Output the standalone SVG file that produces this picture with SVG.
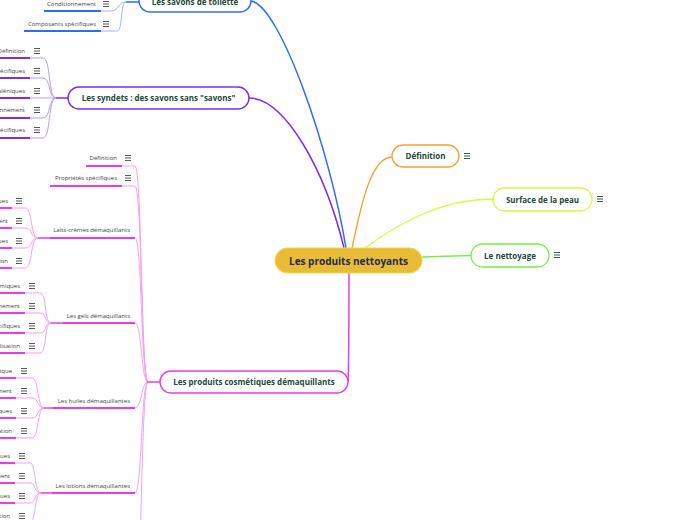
<svg xmlns="http://www.w3.org/2000/svg" xmlns:xlink="http://www.w3.org/1999/xlink" width="696" height="520" viewBox="0 0 696 520">
<style>
.nt{font-family:"Open Sans","Noto Sans",sans-serif;font-weight:700;font-size:8px;fill:#1d4a3a;text-anchor:middle}
.ct{font-family:"Open Sans","Noto Sans",sans-serif;font-weight:700;font-size:10px;fill:#1f2a56;text-anchor:middle}
.lf{font-family:"Open Sans","Noto Sans",sans-serif;font-size:6px;fill:#444;text-anchor:end}
.c{fill:none}
.bl{stroke:#2f6cf6;stroke-width:1.5}
.blL{stroke:#97b5fa;stroke-width:1}
.pu{stroke:#7a2ef0;stroke-width:1.5}
.puL{stroke:#b89bf6;stroke-width:1}
.mg{stroke:#ea3aea;stroke-width:1.5}
.mgL{stroke:#f4a0f2;stroke-width:1}
.ul{stroke-width:2}
.ic{stroke:#444}
.icn{stroke:#1d4a3a}
</style>
<defs>
<path id="mn" d="M0 0.5h6M0 3h6M0 5.5h6" stroke-width="0.9" fill="none"/>
</defs>
<rect width="696" height="520" fill="#ffffff"/>

<g id="connectors" class="c">
  <!-- main branches -->
  <path class="bl" d="M251 1 C280 5,330 150,346 248"/>
  <path class="pu" d="M249 98 C285 98,325 170,344 248"/>
  <path stroke="#f9a12e" stroke-width="1.3" d="M352 248 C362 200,372 157,392 157"/>
  <path stroke="#dcf53e" stroke-width="1.3" d="M365 248 C398 224,440 199,493 199"/>
  <path stroke="#76ee44" stroke-width="1.3" d="M422 257 L471 255.5"/>
  <path class="mg" d="M349 273 C349 320,349 360,348 382"/>

  <!-- savons de toilette children -->
  <path class="blL" d="M101 11 H110 C120 11,117 2,126 2"/>
  <path class="blL" d="M101 31 H117 C123 31,120 2,126 2"/>
  <path class="bl" d="M126 2 H139"/>
  <path class="bl ul" d="M44 11 H101"/>
  <path class="bl ul" d="M24 31 H101"/>

  <!-- syndets children -->
  <g class="puL">
    <path d="M30 58 H43 C51 58,48 98,56 98"/>
    <path d="M30 78 H43 C51 78,48 98,56 98"/>
    <path d="M30 98 H56"/>
    <path d="M30 118 H43 C51 118,48 98,56 98"/>
    <path d="M30 138 H43 C51 138,48 98,56 98"/>
  </g>
  <path class="pu" d="M56 98 H68"/>
  <g class="pu ul">
    <path d="M0 58 H30"/><path d="M0 78 H30"/><path d="M0 98 H30"/><path d="M0 118 H30"/><path d="M0 138 H30"/>
  </g>

  <!-- cosmetics trunk -->
  <g class="mgL">
    <path d="M122 166 H135 C142 166,141 382,148 382"/>
    <path d="M122 186 H135 C142 186,141 382,148 382"/>
    <path d="M135 238 C142 238,141 382,148 382"/>
    <path d="M135 323 C142 323,141 382,148 382"/>
    <path d="M135 408 C142 408,141 382,148 382"/>
    <path d="M135 493 C142 493,141 382,148 382"/>
    <path d="M135 600 C142 600,141 382,148 382"/>
  </g>
  <path class="mg" d="M147 382 H160"/>
  <g class="mg ul">
    <path d="M86 166 H122"/><path d="M50 186 H122"/>
    <path d="M50 238 H135"/><path d="M63 323 H135"/><path d="M53 408 H135"/><path d="M52 493 H135"/>
  </g>

  <!-- laits-cremes children -->
  <g class="mgL">
    <path d="M12 208 H25 C33 208,30 238,38 238"/>
    <path d="M12 228 H25 C33 228,30 238,38 238"/>
    <path d="M12 248 H25 C33 248,30 238,38 238"/>
    <path d="M12 268 H25 C33 268,30 238,38 238"/>
  </g>
  <path class="mg" d="M38 238 H50"/>
  <g class="mg ul"><path d="M0 208 H12"/><path d="M0 228 H12"/><path d="M0 248 H12"/><path d="M0 268 H12"/></g>

  <!-- gels children -->
  <g class="mgL">
    <path d="M25 293 H40 C47 293,44 323,51 323"/>
    <path d="M25 313 H40 C47 313,44 323,51 323"/>
    <path d="M25 333 H40 C47 333,44 323,51 323"/>
    <path d="M25 353 H40 C47 353,44 323,51 323"/>
  </g>
  <path class="mg" d="M51 323 H63"/>
  <g class="mg ul"><path d="M0 293 H25"/><path d="M0 313 H25"/><path d="M0 333 H25"/><path d="M0 353 H25"/></g>

  <!-- huiles children -->
  <g class="mgL">
    <path d="M16 378 H32 C39 378,37 408,44 408"/>
    <path d="M16 398 H32 C39 398,37 408,44 408"/>
    <path d="M16 418 H32 C39 418,37 408,44 408"/>
    <path d="M16 438 H32 C39 438,37 408,44 408"/>
  </g>
  <path class="mg" d="M44 408 H53"/>
  <g class="mg ul"><path d="M0 378 H16"/><path d="M0 398 H16"/><path d="M0 418 H16"/><path d="M0 438 H16"/></g>

  <!-- lotions children -->
  <g class="mgL">
    <path d="M15 463 H30 C36 463,34 493,41 493"/>
    <path d="M15 483 H30 C36 483,34 493,41 493"/>
    <path d="M15 503 H30 C36 503,34 493,41 493"/>
    <path d="M15 523 H30 C36 523,34 493,41 493"/>
  </g>
  <path class="mg" d="M41 493 H52"/>
  <g class="mg ul"><path d="M0 463 H15"/><path d="M0 483 H15"/><path d="M0 503 H15"/><path d="M0 523 H15"/></g>
</g>

<!-- central -->
<g id="central">
  <rect x="275" y="248" width="147" height="25" rx="12.5" fill="#e8bd35" stroke="#f2d54e" stroke-width="1"/>
  <text class="ct" x="348.5" y="264.5">Les produits nettoyants</text>
</g>

<g id="savons">
  <rect x="139" y="-10" width="112" height="22" rx="11" fill="#fff" stroke="#2f6cf6" stroke-width="1.4"/>
  <text class="nt" x="195" y="4.5">Les savons de toilette</text>
</g>
<g id="savons-cond"><text class="lf" x="96" y="6">Conditionnement</text><use href="#mn" class="ic" x="103" y="1"/></g>
<g id="savons-comp"><text class="lf" x="96" y="26">Composants spécifiques</text><use href="#mn" class="ic" x="103" y="21"/></g>

<g id="syndets">
  <rect x="68" y="87" width="181" height="22" rx="11" fill="#fff" stroke="#7a2ef0" stroke-width="1.4"/>
  <text class="nt" x="158.5" y="101">Les syndets : des savons sans "savons"</text>
</g>
<g id="syn-1"><text class="lf" x="25" y="53">Définition</text><use href="#mn" class="ic" x="34" y="48"/></g>
<g id="syn-2"><text class="lf" x="25" y="73">Propriétés spécifiques</text><use href="#mn" class="ic" x="34" y="68"/></g>
<g id="syn-3"><text class="lf" x="25" y="93">Formes galéniques</text><use href="#mn" class="ic" x="34" y="88"/></g>
<g id="syn-4"><text class="lf" x="25" y="112">Conditionnement</text><use href="#mn" class="ic" x="34" y="107"/></g>
<g id="syn-5"><text class="lf" x="25" y="132">Composants spécifiques</text><use href="#mn" class="ic" x="34" y="127"/></g>

<g id="cosmetiques">
  <rect x="160" y="371" width="188" height="22" rx="11" fill="#fff" stroke="#ea3aea" stroke-width="1.4"/>
  <text class="nt" x="254" y="385">Les produits cosmétiques démaquillants</text>
</g>
<g id="cos-def"><text class="lf" x="117" y="160">Définition</text><use href="#mn" class="ic" x="125" y="155"/></g>
<g id="cos-prop"><text class="lf" x="117" y="180">Propriétés spécifiques</text><use href="#mn" class="ic" x="125" y="175"/></g>
<g id="laits"><text class="lf" x="130" y="232">Laits-crèmes démaquillants</text></g>
<g id="gels"><text class="lf" x="130" y="318">Les gels démaquillants</text></g>
<g id="huiles"><text class="lf" x="130" y="403">Les huiles démaquillantes</text></g>
<g id="lotions"><text class="lf" x="130" y="488">Les lotions démaquillantes</text></g>

<g id="laits-1"><text class="lf" x="8" y="203">Propriétés spécifiques</text><use href="#mn" class="ic" x="16" y="198"/></g>
<g id="laits-2"><text class="lf" x="8" y="223">Conditionnement</text><use href="#mn" class="ic" x="16" y="218"/></g>
<g id="laits-3"><text class="lf" x="8" y="243">Composants spécifiques</text><use href="#mn" class="ic" x="16" y="238"/></g>
<g id="laits-4"><text class="lf" x="8" y="263">Mode d'utilisation</text><use href="#mn" class="ic" x="16" y="258"/></g>

<g id="gels-1"><text class="lf" x="20" y="288">Propriétés physico-chimiques</text><use href="#mn" class="ic" x="29" y="283"/></g>
<g id="gels-2"><text class="lf" x="20" y="308">Conditionnement</text><use href="#mn" class="ic" x="29" y="303"/></g>
<g id="gels-3"><text class="lf" x="20" y="328">Composants spécifiques</text><use href="#mn" class="ic" x="29" y="323"/></g>
<g id="gels-4"><text class="lf" x="20" y="348">Mode d'utilisation</text><use href="#mn" class="ic" x="29" y="343"/></g>

<g id="huiles-1"><text class="lf" x="12" y="373">Propriété physico-chimique</text><use href="#mn" class="ic" x="21" y="368"/></g>
<g id="huiles-2"><text class="lf" x="12" y="393">Conditionnement</text><use href="#mn" class="ic" x="21" y="388"/></g>
<g id="huiles-3"><text class="lf" x="12" y="413">Composants spécifiques</text><use href="#mn" class="ic" x="21" y="408"/></g>
<g id="huiles-4"><text class="lf" x="12" y="433">Mode d'utilisation</text><use href="#mn" class="ic" x="21" y="428"/></g>

<g id="lotions-1"><text class="lf" x="10" y="458">Propriétés spécifiques</text><use href="#mn" class="ic" x="19" y="453"/></g>
<g id="lotions-2"><text class="lf" x="10" y="478">Conditionnement</text><use href="#mn" class="ic" x="19" y="473"/></g>
<g id="lotions-3"><text class="lf" x="10" y="498">Composants spécifiques</text><use href="#mn" class="ic" x="19" y="493"/></g>
<g id="lotions-4"><text class="lf" x="10" y="518">Mode d'utilisation</text><use href="#mn" class="ic" x="19" y="513"/></g>

<g id="definition">
  <rect x="392" y="145" width="67" height="22" rx="11" fill="#fff" stroke="#f9a12e" stroke-width="1.3"/>
  <text class="nt" x="425.5" y="159">Définition</text>
  <use href="#mn" class="icn" x="464" y="153"/>
</g>
<g id="surface">
  <rect x="493" y="188" width="99" height="23" rx="11.5" fill="#fff" stroke="#dcf53e" stroke-width="1.3"/>
  <text class="nt" x="542.5" y="202.5">Surface de la peau</text>
  <use href="#mn" class="icn" x="597" y="196"/>
</g>
<g id="nettoyage">
  <rect x="471" y="244" width="78" height="23" rx="11.5" fill="#fff" stroke="#76ee44" stroke-width="1.3"/>
  <text class="nt" x="510" y="258.5">Le nettoyage</text>
  <use href="#mn" class="icn" x="554" y="252"/>
</g>
</svg>
